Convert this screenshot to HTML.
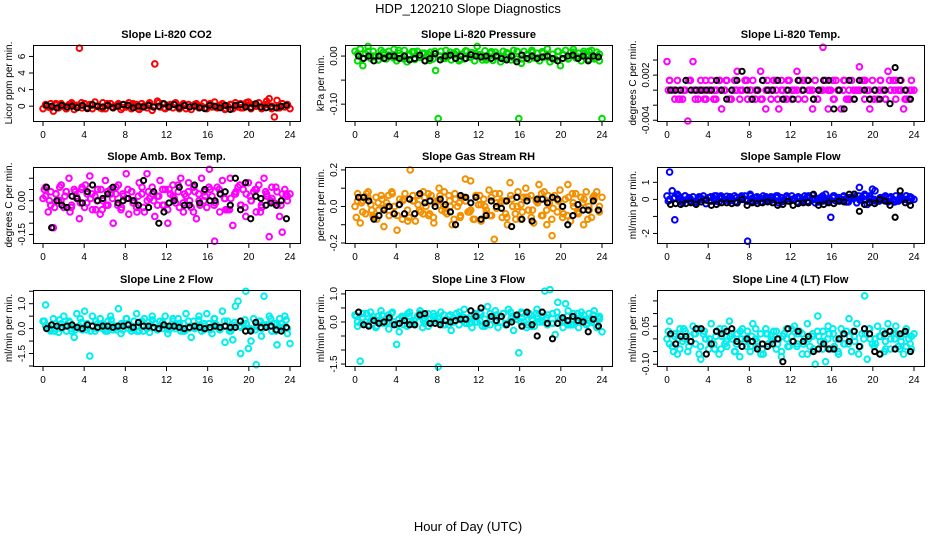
<!DOCTYPE html>
<html><head><meta charset="utf-8"><style>
html,body{margin:0;padding:0;background:#fff}
svg{display:block;font-family:"Liberation Sans",sans-serif}
</style></head><body>
<svg id="c" width="936" height="540" viewBox="0 0 936 540">
<text x="468" y="13" text-anchor="middle" font-size="13">HDP_120210  Slope Diagnostics</text>
<text x="468" y="531" text-anchor="middle" font-size="13">Hour of Day (UTC)</text>
</svg>
<script>
const xTicks=[0,4,8,12,16,20,24];
const co2Color=[-0.3,0.2,-0.1,0.3,-0.6,0.1,-0.2,0.3,0.0,-0.3,0.2,0.4,-0.4,0.1,7.0,-0.2,0.3,-0.1,0.2,-0.3,0.5,0.0,-0.2,0.4,-0.3,0.1,0.3,-0.2,0.0,0.3,-0.4,0.2,-0.1,0.4,-0.3,0.1,0.2,-0.4,0.3,0.0,-0.2,0.4,-0.5,5.1,0.6,-0.1,0.3,-0.3,0.1,0.2,-0.2,0.4,-0.1,0.0,0.3,-0.3,0.2,-0.4,0.1,0.3,-0.2,0.0,0.4,-0.3,0.2,-0.1,0.5,-0.2,0.1,0.3,-0.4,0.0,0.2,-0.3,0.4,-0.1,0.3,-0.2,0.1,0.5,-0.3,0.2,0.0,0.4,-0.2,0.1,0.6,0.9,-0.3,-1.3,0.7,-0.2,0.3,-0.1,0.2,-0.3];
const co2ColorB=[0.1,-0.2,0.3,0.0,-0.3,0.2,-0.1,0.4,-0.2,0.1,0.0,-0.3,0.3,-0.1,0.2,-0.2,0.1,0.3,-0.3,0.0,0.2,-0.1,0.4,-0.2,0.0,0.3,-0.3,0.1,-0.1,0.2,0.0,-0.2,0.3,-0.1,0.1,-0.3,0.2,0.0,-0.2,0.4,-0.1,0.1,-0.3,0.2,0.0,-0.2,0.3,0.1];
const co2Black=[0.1,0.0,-0.2,0.1,-0.1,0.0,-0.2,0.1,-0.3,0.2,0.0,-0.1,0.1,-0.2,0.0,0.2,0.1,-0.2,0.0,-0.1,0.1,-0.1,0.0,0.3,-0.1,0.2,-0.2,0.1,-0.1,0.0,-0.2,-0.3,0.1,0.0,-0.2,0.1,-0.4,0.1,0.2,-0.1,-0.2,0.3,-0.1,-0.2,-0.1,-0.2,0.0,0.1];
const presColor=[0.01,-0.01,0.015,-0.02,0.005,0.02,-0.005,0.01,0.0,-0.008,0.012,0.003,-0.006,0.01,0.0,0.014,-0.01,0.006,-0.004,0.012,-0.012,0.002,0.009,-0.007,0.01,-0.003,0.006,-0.01,0.004,0.008,-0.006,-0.03,-0.13,0.01,-0.005,0.012,0.0,-0.008,0.006,0.009,-0.01,0.004,-0.006,0.01,-0.002,0.007,-0.01,0.02,0.003,-0.008,0.011,-0.004,0.006,-0.009,0.008,0.0,-0.012,0.01,-0.003,0.005,-0.008,0.012,-0.006,-0.13,-0.015,0.01,0.002,-0.007,0.012,-0.004,0.006,-0.01,0.009,-0.002,0.015,-0.012,0.004,-0.006,0.01,-0.02,0.003,0.012,-0.006,0.008,0.014,-0.004,0.006,-0.01,0.01,0.002,-0.007,0.012,-0.004,0.008,-0.01,-0.13];
const presColorB=[0.005,-0.005,0.01,0.0,-0.008,0.008,0.002,-0.004,0.012,-0.006,0.004,0.009,-0.002,0.006,-0.009,0.01,0.0,-0.005,0.008,0.003,-0.007,0.011,-0.003,0.005,0.0,-0.008,0.009,0.002,-0.005,0.007,-0.002,0.01,-0.006,0.004,0.008,-0.004,0.006,0.0,-0.007,0.01,0.003,-0.005,0.008,-0.002,0.005,0.01,-0.006,0.004];
const presBlack=[0.0,-0.005,0.0,-0.01,0.0,-0.005,0.0,0.0,-0.005,0.0,-0.008,-0.005,0.002,-0.01,-0.005,0.005,-0.008,0.0,0.002,-0.005,0.0,-0.005,0.003,0.0,-0.002,0.0,-0.005,0.0,-0.005,-0.008,0.0,-0.012,0.002,-0.005,0.0,-0.005,-0.002,0.0,-0.005,-0.01,-0.005,0.0,0.002,-0.005,0.0,-0.01,0.0,-0.002];
const tempColor=[0.0038,0.0013,0.0,-0.0012,0.0013,0.0,-0.0012,0.0,-0.0041,0.0013,0.0038,0.0,-0.0012,0.0013,0.0,-0.0012,0.0,0.0013,-0.0012,0.0,0.0013,-0.0025,0.0,0.0013,-0.0012,0.0,0.0013,0.0025,-0.0012,0.0,0.0013,-0.0012,0.0,0.0013,-0.0012,0.0,0.0025,0.0013,-0.0025,0.0,-0.0012,0.0013,0.0,-0.0025,0.0013,-0.0012,0.0,0.0013,-0.0012,0.0,0.0025,0.0013,0.0,-0.0012,0.0013,0.0,-0.0025,0.0013,-0.0012,0.0,0.0057,0.0013,-0.0025,0.0,-0.0012,0.0013,0.0,-0.0025,0.0013,-0.0012,0.0,0.0013,-0.0012,0.0,0.0031,0.0013,-0.0012,0.0,-0.0025,0.0013,0.0,-0.0012,0.0013,0.0,-0.0012,0.0025,0.0,0.0013,-0.0012,0.0,0.0013,-0.0025,0.0,-0.0012,0.0013,0.0];
const tempColorB=[0.0013,0.0,-0.0012,0.0,0.0013,-0.0012,0.0,0.0013,0.0,-0.0012,0.0,0.0013,-0.0012,0.0,0.0,0.0013,-0.0012,0.0,-0.0012,0.0013,0.0,-0.0012,0.0,0.0013,0.0,-0.0012,0.0013,0.0,-0.0012,0.0,0.0013,0.0,-0.0012,0.0,0.0013,-0.0012,0.0,0.0,0.0013,-0.0012,0.0,0.0013,-0.0012,0.0,0.0013,0.0,-0.0012,0.0];
const tempColorC=[0.0,0.0,-0.0012,0.0,0.0013,0.0,0.0,-0.0012,0.0,0.0,0.0013,0.0,-0.0012,0.0,0.0,0.0013,0.0,0.0,-0.0012,0.0,0.0,0.0013,0.0,-0.0012,0.0,0.0,0.0,0.0013,0.0,-0.0012,0.0,0.0,0.0013,0.0,0.0,-0.0012,0.0,0.0,0.0013,0.0,-0.0012,0.0,0.0,0.0013,0.0,0.0,-0.0012,0.0];
const tempBlack=[0.0,0.0,0.0,0.0013,0.0,0.0,0.0,0.0,0.0,0.0013,0.0,-0.0012,0.0,0.0013,0.0025,0.0,-0.0012,0.0,0.0013,0.0,0.0,0.0013,-0.0012,0.0,-0.0012,0.0013,0.0,0.0013,-0.0012,0.0,0.0013,0.0013,-0.0025,0.0,-0.0025,0.0013,-0.0012,0.0013,0.0,-0.0012,0.0,-0.0012,0.0,-0.0018,0.003,0.0013,0.0,-0.0012];
const ambColor=[0.01,0.06,-0.05,0.04,-0.12,0.03,0.0,0.07,-0.03,0.04,0.1,-0.02,0.05,0.01,-0.08,0.06,-0.03,0.03,0.11,-0.04,0.02,0.05,-0.06,0.0,0.09,-0.02,0.05,-0.1,0.03,0.07,-0.04,0.02,0.12,-0.06,0.04,0.0,-0.03,0.08,0.03,-0.05,0.12,0.01,0.06,-0.07,0.02,0.09,-0.02,0.05,-0.1,0.03,0.07,-0.01,0.04,0.1,-0.05,0.02,0.08,-0.03,0.06,-0.08,0.0,0.1,0.04,-0.03,0.14,0.02,-0.18,0.06,-0.05,0.09,0.01,-0.04,0.1,-0.11,0.03,0.06,-0.02,0.05,-0.07,0.08,0.0,0.04,-0.05,0.07,-0.02,0.1,0.03,-0.16,0.06,-0.01,0.04,-0.07,-0.14,0.05,0.02,0.03];
const ambColorB=[0.02,-0.02,0.03,0.0,0.04,-0.03,0.02,0.05,-0.01,0.03,0.0,-0.04,0.04,0.01,-0.02,0.03,0.05,-0.01,0.02,-0.03,0.04,0.0,0.02,-0.02,0.05,0.01,-0.03,0.03,0.0,0.04,-0.02,0.02,0.05,-0.01,0.03,-0.04,0.01,0.04,-0.02,0.03,0.0,0.05,-0.03,0.02,0.01,-0.02,0.03,0.0];
const ambColorC=[0.05,0.0,-0.03,0.06,0.02,-0.05,0.04,-0.01,0.07,0.01,-0.04,0.05,-0.02,0.03,0.06,-0.03,0.01,0.04,-0.05,0.06,0.0,0.03,-0.02,0.05,-0.04,0.02,0.07,-0.01,0.04,-0.05,0.03,0.0,0.06,-0.02,0.05,0.01,-0.04,0.03,0.07,-0.03,0.02,0.05,-0.05,0.04,0.0,0.06,-0.02,0.03];
const ambBlack=[0.06,-0.12,0.0,-0.02,-0.03,0.02,0.01,-0.01,0.04,0.07,0.0,0.01,0.03,0.06,-0.01,0.0,0.01,0.0,-0.02,0.09,-0.03,0.04,-0.1,-0.05,-0.01,0.0,0.06,-0.02,-0.02,0.07,-0.01,0.05,0.0,0.0,0.03,0.04,-0.02,0.1,-0.04,0.08,-0.08,0.02,0.01,-0.02,-0.01,-0.02,0.0,-0.08];
const rhColor=[0.0,0.07,-0.09,0.03,-0.04,0.08,0.01,-0.06,0.05,-0.02,0.06,-0.11,0.02,-0.05,0.08,0.0,-0.13,0.04,-0.07,0.07,-0.02,0.2,0.03,-0.08,0.06,-0.03,0.08,0.0,-0.05,0.06,-0.09,0.03,0.1,-0.02,0.08,-0.04,0.03,-0.1,0.07,0.0,-0.06,0.05,0.15,-0.03,0.14,-0.07,0.06,0.01,-0.08,0.04,-0.02,0.09,-0.05,-0.18,0.02,0.07,-0.06,0.03,-0.1,0.13,0.0,-0.04,0.08,-0.07,0.05,0.1,-0.02,0.06,-0.09,0.03,0.12,-0.05,0.08,-0.1,0.02,-0.16,0.06,-0.03,0.09,-0.06,0.04,0.12,-0.08,0.02,0.07,-0.04,0.05,-0.1,0.08,0.0,-0.06,0.04,0.08,-0.03,0.05];
const rhColorB=[0.03,-0.03,0.05,-0.05,0.02,-0.01,0.06,-0.04,0.01,0.04,-0.06,0.03,-0.02,0.05,-0.04,0.02,0.06,-0.03,0.0,0.04,-0.05,0.03,-0.02,0.06,0.01,-0.04,0.05,-0.01,0.03,-0.06,0.04,0.0,-0.03,0.05,-0.02,0.02,-0.05,0.06,-0.01,0.03,-0.04,0.05,0.0,-0.03,0.04,-0.02,0.06,0.0];
const rhColorC=[-0.06,0.02,0.07,-0.02,-0.07,0.04,0.0,0.07,-0.05,0.03,-0.08,0.06,0.01,-0.04,0.07,-0.06,0.03,0.0,0.06,-0.07,0.02,0.05,-0.03,-0.07,0.06,0.0,-0.05,0.07,0.02,-0.04,0.06,-0.07,0.01,0.05,-0.06,0.03,0.07,-0.02,-0.07,0.04,0.0,-0.05,0.07,-0.03,0.02,-0.07,0.05,-0.02];
const rhBlack=[0.05,0.05,0.03,-0.07,-0.05,-0.02,0.0,-0.04,0.01,-0.04,0.04,-0.04,0.07,0.02,0.03,0.0,0.04,0.01,-0.03,-0.1,0.06,0.05,0.02,0.05,-0.07,-0.05,0.03,0.0,-0.01,0.03,-0.11,0.05,-0.07,0.03,-0.08,0.04,0.04,0.02,0.05,0.04,0.0,-0.1,-0.05,0.01,-0.02,-0.02,0.03,-0.02];
const sampColor=[0.2,1.6,0.5,-1.2,0.3,0.1,-0.2,0.2,0.0,-0.1,0.15,-0.2,0.1,0.0,0.2,-0.25,0.1,-0.1,0.05,0.2,-0.15,0.1,0.0,0.18,-0.1,0.05,0.2,-0.2,0.1,0.0,0.2,-2.45,0.3,-0.1,0.1,0.0,-0.15,0.2,0.05,-0.1,0.15,0.0,0.2,-0.2,0.1,0.0,0.15,-0.1,0.2,0.05,-0.15,0.1,0.0,0.2,-0.1,0.1,0.25,-0.2,0.05,0.1,-0.1,0.3,0.0,-1.05,0.2,-0.1,0.1,0.0,0.2,-0.15,0.1,0.05,0.3,-0.2,0.7,0.1,0.3,-0.3,0.2,0.6,0.5,-0.1,0.1,0.0,0.2,-0.15,0.1,0.0,0.2,-0.1,0.15,0.0,0.2,-0.1,0.1,0.0];
const sampColorB=[0.0,0.1,-0.1,0.2,0.05,-0.15,0.1,0.0,0.15,-0.1,0.2,0.0,-0.05,0.1,0.2,-0.1,0.05,0.15,-0.15,0.0,0.1,0.2,-0.1,0.05,0.0,0.15,-0.1,0.2,0.0,-0.15,0.1,0.05,0.2,-0.1,0.0,0.1,0.15,-0.05,0.2,0.0,-0.1,0.1,0.05,0.15,-0.1,0.0,0.2,0.05];
const sampColorC=[-0.1,0.05,0.2,-0.05,0.1,-0.15,0.15,0.0,-0.1,0.2,0.05,-0.05,0.15,-0.15,0.1,0.0,0.2,-0.1,0.05,0.15,-0.05,0.1,-0.15,0.2,0.0,0.1,-0.1,0.15,0.05,-0.05,0.2,-0.1,0.1,0.0,0.15,-0.15,0.05,0.2,-0.05,0.1,0.0,-0.1,0.15,0.05,-0.15,0.1,0.0,0.15];
const sampBlack=[-0.3,-0.25,-0.3,-0.25,-0.2,-0.3,-0.15,-0.05,-0.35,-0.3,-0.2,-0.2,-0.25,-0.2,0.0,-0.35,-0.2,-0.25,-0.2,-0.15,-0.2,-0.35,-0.3,-0.1,-0.35,-0.25,-0.2,-0.2,0.3,-0.35,-0.3,-0.2,-0.25,-0.1,-0.15,0.3,0.3,-0.7,-0.3,-0.2,-0.25,0.0,-0.1,-0.35,-1.05,0.5,-0.2,-0.35];
const l2Color=[0.3,0.95,0.1,-0.1,0.4,0.0,-0.15,0.2,0.5,-0.1,0.3,0.0,-0.35,0.6,0.1,-0.05,0.7,0.2,-1.1,0.5,-0.1,0.2,0.4,0.0,-0.1,0.3,0.5,-0.05,0.1,0.8,-0.2,0.2,0.4,0.0,-0.1,0.3,0.6,-0.1,0.1,0.4,0.0,-0.15,0.5,0.2,-0.05,0.3,0.0,0.5,-0.2,0.1,0.3,0.0,0.4,-0.1,0.2,0.6,0.0,-0.35,0.3,0.1,0.5,-0.1,0.2,0.6,0.0,-0.2,0.4,0.1,-0.05,0.7,-0.55,0.3,0.0,-0.45,0.9,1.1,-1.0,0.2,1.5,-0.8,-0.5,0.4,-1.45,0.3,-0.3,1.3,0.1,0.5,-0.1,0.2,-0.65,0.4,0.0,0.5,-0.2,-0.6];
const l2ColorB=[0.1,-0.05,0.2,0.0,0.15,-0.1,0.05,0.25,-0.05,0.1,0.0,0.2,-0.1,0.15,0.05,-0.05,0.2,0.0,0.1,-0.1,0.25,0.05,0.0,0.15,-0.05,0.1,0.2,-0.1,0.05,0.0,0.15,0.1,-0.05,0.2,0.0,0.1,-0.1,0.15,0.05,0.2,-0.05,0.1,0.0,0.15,-0.1,0.2,0.05,0.0];
const l2ColorC=[0.3,0.0,-0.1,0.35,0.1,0.25,-0.05,0.4,0.05,-0.1,0.3,0.15,0.0,0.35,-0.05,0.2,0.4,0.0,-0.1,0.3,0.1,0.35,-0.05,0.25,0.0,0.4,0.1,-0.1,0.3,0.05,0.35,-0.05,0.2,0.4,0.0,0.3,-0.1,0.25,0.1,0.35,0.0,-0.05,0.3,0.15,0.4,-0.1,0.2,0.35];
const l2Black=[0.0,0.15,0.1,0.05,0.1,0.15,0.05,0.0,0.15,0.1,0.05,0.1,0.1,0.05,0.1,0.1,0.15,0.05,0.25,0.1,0.1,0.05,0.0,0.15,0.1,0.1,0.05,0.0,0.05,0.1,0.05,0.0,0.05,0.1,0.05,0.1,0.05,0.05,0.3,-0.1,-0.1,0.25,0.05,0.05,0.1,-0.05,-0.1,0.05];
const l3Color=[0.25,-0.15,-1.4,0.3,0.0,-0.1,0.35,0.1,-0.2,0.2,0.4,-0.05,0.1,-0.25,0.3,0.0,-0.8,-0.35,0.2,0.1,-0.15,0.35,0.0,-0.1,0.2,0.4,-0.2,0.1,0.3,-0.05,0.2,0.05,-1.6,0.35,-0.1,0.1,0.2,-0.3,0.0,0.3,-0.1,0.2,0.45,-0.05,0.1,-0.2,0.3,0.0,0.35,-0.15,0.1,0.55,-0.1,0.2,0.4,-0.2,0.0,0.3,-0.1,0.45,0.1,-0.3,0.2,-1.1,0.35,0.0,-0.2,0.3,0.1,-0.15,0.45,0.0,0.2,1.1,-0.1,1.15,0.3,-0.45,0.7,0.1,-0.2,0.65,0.4,-0.1,0.3,0.0,-0.2,0.35,0.1,-0.1,0.3,0.0,0.4,-0.2,0.2,-0.35];
const l3ColorB=[0.0,0.15,-0.1,0.2,0.05,-0.05,0.25,0.0,0.1,-0.1,0.2,0.05,0.3,-0.05,0.1,0.2,0.0,-0.1,0.25,0.05,0.15,-0.05,0.2,0.0,0.3,-0.1,0.1,0.25,0.0,-0.05,0.2,0.1,0.3,-0.1,0.05,0.2,0.0,0.25,-0.05,0.15,0.05,-0.1,0.2,0.0,0.25,0.05,-0.05,0.1];
const l3ColorC=[0.2,-0.05,0.3,0.1,-0.15,0.25,0.0,0.35,-0.1,0.15,0.3,-0.05,0.2,0.05,-0.15,0.3,0.1,0.25,-0.1,0.0,0.35,0.15,-0.05,0.25,0.05,-0.15,0.3,0.0,0.2,-0.1,0.35,0.1,0.0,0.25,-0.15,0.3,0.05,0.15,-0.05,0.35,0.0,0.2,-0.1,0.3,0.1,-0.05,0.25,0.15];
const l3Black=[0.35,-0.1,-0.15,0.05,-0.05,0.0,0.15,-0.1,-0.05,0.05,-0.1,-0.1,0.25,0.3,-0.05,-0.05,-0.1,0.05,0.0,0.05,0.1,0.1,0.4,0.2,0.5,-0.05,0.2,0.05,0.2,-0.1,0.0,0.25,-0.15,0.35,-0.1,-0.5,0.35,-0.05,-0.6,-0.05,0.15,0.05,0.2,0.05,0.0,-0.35,0.1,-0.15];
const l4Color=[0.0,0.07,-0.03,0.02,-0.06,0.04,-0.01,0.03,-0.05,0.01,0.05,-0.02,0.04,-0.08,0.02,0.0,-0.04,0.06,-0.02,0.03,-0.06,0.01,0.04,-0.03,0.07,0.0,-0.05,0.02,-0.07,0.04,-0.01,0.03,-0.05,0.06,0.0,-0.03,0.02,-0.06,0.04,-0.02,0.01,0.03,-0.04,0.0,-0.07,0.02,0.04,-0.03,0.01,0.05,-0.02,0.03,-0.06,0.0,0.06,-0.03,0.02,-0.1,0.09,-0.01,0.03,-0.09,0.05,-0.04,0.02,0.0,-0.06,0.04,-0.02,0.03,0.08,-0.05,0.01,0.06,-0.03,0.02,0.17,-0.08,0.04,-0.02,0.0,0.05,-0.06,0.03,-0.01,0.06,-0.04,0.02,0.05,-0.03,0.01,-0.06,0.04,0.0,-0.04,0.02];
const l4ColorB=[-0.02,0.01,-0.04,0.0,-0.01,0.02,-0.03,0.0,-0.02,0.01,-0.04,-0.01,0.02,-0.02,0.0,-0.03,0.01,-0.01,-0.04,0.02,0.0,-0.02,0.01,-0.03,-0.01,0.02,-0.02,0.0,-0.04,0.01,-0.01,0.02,-0.03,0.0,-0.02,0.01,-0.01,-0.03,0.02,0.0,-0.02,0.01,-0.04,0.0,0.02,-0.01,-0.03,0.01];
const l4ColorC=[0.03,-0.05,0.0,0.04,-0.03,0.02,-0.06,0.03,0.0,-0.04,0.04,-0.02,0.01,-0.05,0.03,0.0,-0.03,0.04,-0.06,0.02,-0.01,0.03,-0.05,0.0,0.04,-0.03,0.02,-0.06,0.01,0.03,-0.04,0.0,0.04,-0.05,0.02,-0.02,0.03,-0.06,0.0,0.04,-0.03,0.01,-0.05,0.03,0.0,-0.04,0.02,-0.02];
const l4Black=[0.02,-0.02,0.01,0.01,-0.01,0.04,0.04,-0.06,-0.02,0.03,0.02,0.03,0.04,-0.01,-0.03,0.0,-0.01,-0.04,-0.02,-0.03,-0.02,0.0,-0.09,0.04,-0.01,0.03,-0.01,0.01,-0.05,-0.04,-0.02,-0.04,-0.04,0.0,0.02,-0.01,0.03,-0.03,0.04,0.02,-0.05,-0.06,0.02,0.03,-0.04,0.02,0.03,-0.05];

const panels=[
 {name:"co2",title:"Slope Li-820 CO2",ylab:"Licor ppm per min.",col:0,row:0,y0:-1.79,y1:7.38,ticks:[0,2,4,6],tl:["0","2","4","6"],color:"#ff0000",sets:[co2Color,co2ColorB],black:co2Black},
 {name:"pressure",title:"Slope Li-820 Pressure",ylab:"kPa per min.",col:1,row:0,y0:-0.135,y1:0.023,ticks:[0,-0.05,-0.1],tl:["0.00","","-0.10"],color:"#00dd00",sets:[presColor,presColorB],black:presBlack},
 {name:"temp",title:"Slope Li-820 Temp.",ylab:"degrees C per min.",col:2,row:0,y0:-0.0041,y1:0.006,ticks:[0.004,0.002,0,-0.002,-0.004],tl:["","0.002","","","-0.004"],color:"#ff00ff",sets:[tempColor,tempColorB,tempColorC],black:tempBlack},
 {name:"amb-temp",title:"Slope Amb. Box Temp.",ylab:"degrees C per min.",col:0,row:1,y0:-0.188,y1:0.15,ticks:[0.1,0.05,0,-0.05,-0.1,-0.15],tl:["","","0.00","","","-0.15"],color:"#ff00ff",sets:[ambColor,ambColorB,ambColorC],black:ambBlack},
 {name:"rh",title:"Slope Gas Stream RH",ylab:"percent per min.",col:1,row:1,y0:-0.2,y1:0.216,ticks:[0.2,0.1,0,-0.1,-0.2],tl:["0.2","","0.0","","-0.2"],color:"#f39000",sets:[rhColor,rhColorB,rhColorC],black:rhBlack},
 {name:"sample-flow",title:"Slope Sample Flow",ylab:"ml/min per min.",col:2,row:1,y0:-2.56,y1:1.9,ticks:[1,0,-1,-2],tl:["1","0","","-2"],color:"#0000ff",sets:[sampColor,sampColorB,sampColorC],black:sampBlack},
 {name:"line2-flow",title:"Slope Line 2 Flow",ylab:"ml/min per min.",col:0,row:2,y0:-1.5,y1:1.55,ticks:[1.5,1,0.5,0,-0.5,-1,-1.5],tl:["","1.0","","0.0","","-1.5",""],color:"#00eeee",sets:[l2Color,l2ColorB,l2ColorC],black:l2Black},
 {name:"line3-flow",title:"Slope Line 3 Flow",ylab:"ml/min per min.",col:1,row:2,y0:-1.57,y1:1.14,ticks:[1,0.5,0,-0.5,-1,-1.5],tl:["1.0","","0.0","","","-1.5"],color:"#00eeee",sets:[l3Color,l3ColorB,l3ColorC],black:l3Black},
 {name:"line4-flow",title:"Slope Line 4 (LT) Flow",ylab:"ml/min per min.",col:2,row:2,y0:-0.107,y1:0.193,ticks:[0.15,0.1,0.05,0,-0.05,-0.1],tl:["","","0.05","","","-0.10"],color:"#00eeee",sets:[l4Color,l4ColorB,l4ColorC],black:l4Black}
];
const NS="http://www.w3.org/2000/svg";
const svg=document.getElementById('c');
function mk(tag,attrs,parent){const e=document.createElementNS(NS,tag);for(const k in attrs)e.setAttribute(k,attrs[k]);parent.appendChild(e);return e;}
const colL=[33,345,657],colW=267,rowT=[45,167,290],rowH=76;
const offs=[0,0.5,0.25];
panels.forEach(p=>{
 const L=colL[p.col],T=rowT[p.row],R=L+colW,B=T+rowH;
 const g=mk('g',{},svg);
 
 
 const xs=v=>L+10+v*(colW-20)/24;
 const ys=v=>B-(v-p.y0)/(p.y1-p.y0)*rowH;
 const t=mk('text',{x:(L+R)/2,y:T-7,'text-anchor':'middle','font-size':11,'font-weight':'bold'},g);
 t.textContent=p.title;
 
 
 const pts=mk('g',{fill:'none','stroke-width':2},g);
 
 
 p.sets.forEach((arr,si)=>{
  arr.forEach((v,i)=>{
   const hx=si===0?i*24/(arr.length-1):(i+offs[si])*24/arr.length;
   const c=mk('circle',{cx:xs(hx),cy:ys(v),r:2.8,stroke:p.color},pts);
   
   
  });
 });
 p.black.forEach((v,i)=>{
  const hx=(i+0.7)*24/(p.black.length+0.4);
  const c=mk('circle',{cx:xs(hx),cy:ys(v),r:2.6,stroke:'#000'},pts);
  
  
 });
 const box=mk('rect',{x:L+0.5,y:T+0.5,width:colW,height:rowH,fill:'none',stroke:'#000','stroke-width':1},g);
 
 
 const xa=mk('g',{},g);
 
 
 mk('line',{x1:xs(0),x2:xs(24),y1:B+0.5,y2:B+0.5,stroke:'#000'},xa);
 xTicks.forEach(v=>{
  mk('line',{x1:xs(v),x2:xs(v),y1:B,y2:B+5,stroke:'#000'},xa);
  const tx=mk('text',{x:xs(v),y:B+17,'text-anchor':'middle','font-size':10},xa);
  tx.textContent=v;
  
  
 });
 const ya=mk('g',{},g);
 
 
 p.ticks.forEach((v,i)=>{
  const y=ys(v);
  mk('line',{x1:L-4,x2:L,y1:y,y2:y,stroke:'#000'},ya);
  if(p.tl[i]){
   const tx=mk('text',{x:L-8,y:y,'text-anchor':'middle','font-size':10,transform:`rotate(-90 ${L-8} ${y})`},ya);
   tx.textContent=p.tl[i];
   
   
  }
 });
 const yl=mk('text',{x:L-21,y:(T+B)/2,'text-anchor':'middle','font-size':10,transform:`rotate(-90 ${L-21} ${(T+B)/2})`},g);
 yl.textContent=p.ylab;
 
 
});
</script>
</body></html>
